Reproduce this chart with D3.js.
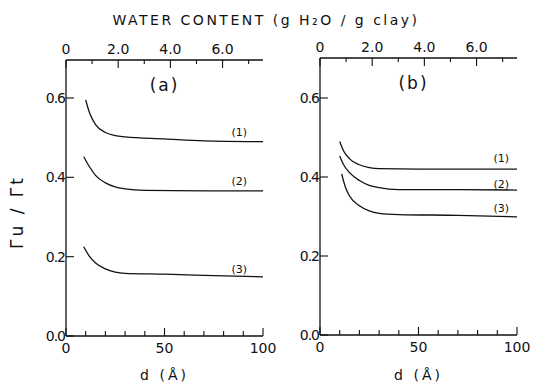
<!doctype html>
<html>
<head>
<meta charset="utf-8">
<title>Water content</title>
<style>
* {padding:0;margin:0}
body {background:#fff}
text {font-family: "DejaVu Sans", sans-serif; fill:#111}
</style>
</head>
<body>
<div id="chart"></div>
<script src="https://d3js.org/d3.v7.min.js"></script>
<script>

// spacing d (Å) and Γu/Γt
const a1 = [[10,0.595],[12,0.562],[15,0.533],[20,0.513],[25,0.505],[30,0.502],[50,0.497],[70,0.492],[100,0.49]];
const a2 = [[9,0.452],[12,0.426],[15,0.405],[20,0.386],[25,0.376],[30,0.371],[40,0.367],[70,0.366],[100,0.366]];
const a3 = [[9,0.225],[12,0.2],[15,0.184],[20,0.169],[25,0.161],[30,0.158],[50,0.156],[70,0.153],[100,0.149]];
const b1 = [[10,0.49],[12,0.466],[15,0.446],[20,0.431],[25,0.424],[30,0.421],[50,0.42],[100,0.42]];
const b2 = [[10,0.453],[12,0.431],[15,0.411],[20,0.391],[25,0.379],[30,0.373],[40,0.368],[70,0.368],[100,0.367]];
const b3 = [[11,0.408],[13,0.373],[15,0.352],[20,0.327],[25,0.314],[30,0.308],[40,0.305],[70,0.303],[100,0.299]];

const yTicks = [0.0, 0.2, 0.4, 0.6];
const dMajor = [0, 50, 100];
const dMinor = [10, 20, 30, 40, 60, 70, 80, 90];
const wMajor = [0, 2, 4, 6];
const wMinor = [1, 3, 5, 7];

const svg = d3.select("#chart").append("svg")
	.attr("width", 533)
	.attr("height", 385);

const panels = [
	{x0: 66, x1: 263, y0: 60, y1: 336, tag: "(a)", series: [a1, a2, a3]},
	{x0: 320, x1: 517, y0: 58, y1: 335, tag: "(b)", series: [b1, b2, b3]}
];

// where the (1)(2)(3) labels sit, in data units
const labelPos = [
	[[88, 0.503], [88, 0.38], [88, 0.16]],
	[[92, 0.437], [92, 0.373], [92, 0.312]]
];

panels.forEach(function(p, pi) {
	const x = d3.scaleLinear().domain([0, 100]).range([p.x0, p.x1]);
	const xw = d3.scaleLinear().domain([0, 7.55]).range([p.x0, p.x1]);
	// y(0.6) should land near 98
	const y = d3.scaleLinear().domain([0, 0.6 * (p.y1 - p.y0) / (p.y1 - 98)]).range([p.y1, p.y0]);

	const g = svg.append("g");

	// axes lines
	g.append("line").attr("x1", p.x0).attr("x2", p.x0).attr("y1", p.y0).attr("y2", p.y1)
		.attr("stroke", "#111").attr("stroke-width", 1.3);
	g.append("line").attr("x1", p.x0).attr("x2", p.x1).attr("y1", p.y1).attr("y2", p.y1)
		.attr("stroke", "#111").attr("stroke-width", 1.3);
	g.append("line").attr("x1", p.x0).attr("x2", p.x1).attr("y1", p.y0).attr("y2", p.y0)
		.attr("stroke", "#111").attr("stroke-width", 1.3);

	// bottom ticks
	g.selectAll(".bmaj").data(dMajor).enter().append("line")
		.attr("x1", d => x(d)).attr("x2", d => x(d))
		.attr("y1", p.y1).attr("y2", p.y1 - 8)
		.attr("stroke", "#111").attr("stroke-width", 1.1);
	g.selectAll(".bmin").data(dMinor).enter().append("line")
		.attr("x1", d => x(d)).attr("x2", d => x(d))
		.attr("y1", p.y1).attr("y2", p.y1 - 5)
		.attr("stroke", "#111").attr("stroke-width", 1.1);
	g.selectAll(".blab").data(dMajor).enter().append("text")
		.attr("x", d => x(d)).attr("y", p.y1 + 17)
		.attr("text-anchor", "middle").attr("font-size", 14)
		.text(d => d);

	// top ticks (water content)
	g.selectAll(".tmaj").data(wMajor).enter().append("line")
		.attr("x1", d => xw(d)).attr("x2", d => xw(d))
		.attr("y1", p.y0).attr("y2", p.y0 + 8)
		.attr("stroke", "#111").attr("stroke-width", 1.1);
	g.selectAll(".tmin").data(wMinor).enter().append("line")
		.attr("x1", d => xw(d)).attr("x2", d => xw(d))
		.attr("y1", p.y0).attr("y2", p.y0 + 4)
		.attr("stroke", "#111").attr("stroke-width", 1.1);
	g.selectAll(".tlab").data(wMajor).enter().append("text")
		.attr("x", d => xw(d)).attr("y", p.y0 - 6)
		.attr("text-anchor", "middle").attr("font-size", 14)
		.text(d => d === 0 ? "0" : d.toFixed(1));

	// y ticks
	g.selectAll(".yt").data(yTicks).enter().append("line")
		.attr("x1", p.x0).attr("x2", p.x0 + 8)
		.attr("y1", d => y(d)).attr("y2", d => y(d))
		.attr("stroke", "#111").attr("stroke-width", 1.1);
	g.selectAll(".yl").data(yTicks).enter().append("text")
		.attr("x", p.x0 - 1).attr("y", d => y(d) + 5)
		.attr("text-anchor", "end").attr("font-size", 14)
		.attr("letter-spacing", "-1px")
		.text(d => d.toFixed(1));

	// curves
	const line = d3.line().x(d => x(d[0])).y(d => y(d[1])).curve(d3.curveMonotoneX);
	g.selectAll(".curve").data(p.series).enter().append("path")
		.attr("d", line)
		.attr("fill", "none").attr("stroke", "#111").attr("stroke-width", 1.3);

	g.selectAll(".clab").data(labelPos[pi]).enter().append("text")
		.attr("x", d => x(d[0])).attr("y", d => y(d[1]))
		.attr("text-anchor", "middle").attr("font-size", 11)
		.text((d, i) => "(" + (i + 1) + ")");

	g.append("text")
		.attr("x", (p.x0 + p.x1) / 2 - (pi ? 5 : 0)).attr("y", p.y0 + 31)
		.attr("text-anchor", "middle").attr("font-size", 17)
		.attr("letter-spacing", "2px")
		.text(p.tag);

	g.append("text")
		.attr("x", (p.x0 + p.x1) / 2).attr("y", 380)
		.attr("text-anchor", "middle").attr("font-size", 14)
		.attr("letter-spacing", "3px")
		.text("d (Å)");
});

svg.append("text")
	.attr("x", 266).attr("y", 25)
	.attr("text-anchor", "middle").attr("font-size", 14)
	.attr("letter-spacing", "2.5px")
	.text("WATER  CONTENT (g H₂O / g clay)");

svg.append("text")
	.attr("transform", "translate(23,212) rotate(-90)")
	.attr("text-anchor", "middle").attr("font-size", 17)
	.attr("letter-spacing", "3px")
	.text("Γu / Γt");

</script>
</body>
</html>
